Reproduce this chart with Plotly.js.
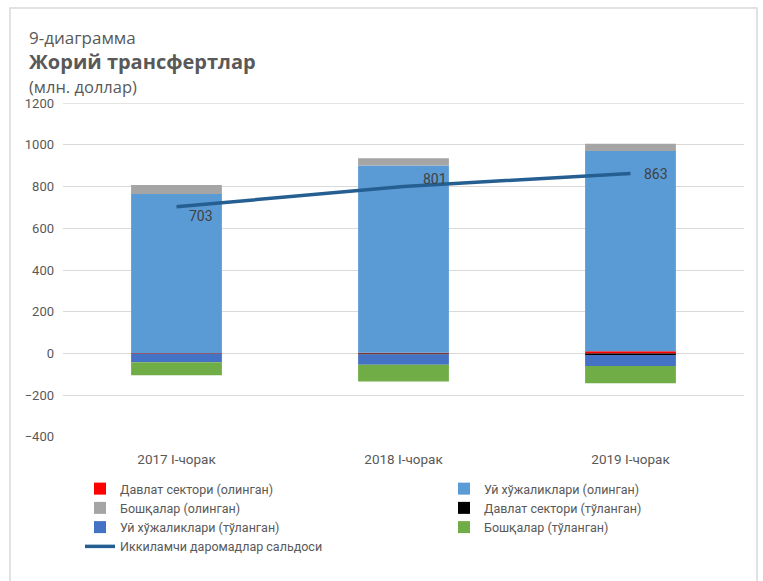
<!DOCTYPE html>
<html>
<head>
<meta charset="utf-8">
<script src="https://cdn.plot.ly/plotly-3.0.1.min.js"></script>
<style>html,body{margin:0;padding:0;background:#fff;}#chart{width:763px;height:581px;}</style>
</head>
<body>
<div id="chart"></div>
<script>
const categories = ["2017 I-чорак", "2018 I-чорак", "2019 I-чорак"];
const govReceived = [2, 3, 10];
const householdsReceived = [763, 898, 961];
const othersReceived = [43, 35, 35];
const govPaid = [-2, -5, -8];
const householdsPaid = [-40, -50, -53];
const othersPaid = [-63, -80, -82];
const secondaryIncomeBalance = [703, 801, 863];
const yTicks = [-400, -200, 0, 200, 400, 600, 800, 1000, 1200];

const seriesNames = [
  "Давлат сектори (олинган)",
  "Уй хўжаликлари (олинган)",
  "Бошқалар (олинган)",
  "Давлат сектори (тўланган)",
  "Уй хўжаликлари (тўланган)",
  "Бошқалар (тўланган)",
  "Иккиламчи даромадлар сальдоси"
];
const colors = ["#ff0000", "#5b9bd5", "#a5a5a5", "#000000", "#4472c4", "#70ad47", "#255e91"];
const legendOf = ["legend", "legend2", "legend", "legend2", "legend", "legend2", "legend"];
const barData = [govReceived, householdsReceived, othersReceived, govPaid, householdsPaid, othersPaid];

const FONT = "Roboto, Liberation Sans, sans-serif";
const GREY = "#595959";

const traces = barData.map((vals, i) => ({
  type: "bar",
  name: seriesNames[i],
  legend: legendOf[i],
  x: categories,
  y: vals,
  marker: {color: colors[i], line: {width: 0}},
  hoverinfo: "skip"
}));

traces.push({
  type: "scatter",
  mode: "lines",
  name: seriesNames[6],
  legend: legendOf[6],
  x: categories,
  y: secondaryIncomeBalance,
  line: {color: colors[6], width: 3.5},
  hoverinfo: "skip"
});

// plot area in pixels: x 63..744, y 103..437
const L = 63, R = 744, T = 103, B = 437;
const px = x => (x - L) / (R - L);
const py = y => (B - y) / (B - T);

const labelShifts = [[24, -9], [31, 7], [25, -1]];
const valueLabels = secondaryIncomeBalance.map((v, i) => ({
  x: categories[i], y: v, xref: "x", yref: "y",
  text: String(v), showarrow: false,
  xanchor: "center", yanchor: "middle",
  xshift: labelShifts[i][0], yshift: labelShifts[i][1],
  font: {family: FONT, size: 14, color: "#404040"}
}));

const legendCommon = {
  orientation: "v",
  xanchor: "left",
  yanchor: "top",
  itemwidth: 30,
  tracegroupgap: 0,
  font: {family: FONT, size: 12.5, color: GREY},
  bgcolor: "rgba(0,0,0,0)",
  borderwidth: 0
};

const yMax = yTicks[yTicks.length - 1];

const layout = {
  width: 763,
  height: 581,
  margin: {l: L, r: 763 - R, t: T, b: 581 - B, autoexpand: false},
  paper_bgcolor: "#ffffff",
  plot_bgcolor: "#ffffff",
  barmode: "relative",
  bargap: 0.6,
  showlegend: true,
  font: {family: FONT, color: GREY},
  xaxis: {
    type: "category",
    showgrid: false,
    zeroline: false,
    showline: false,
    ticks: "",
    ticklabelstandoff: 12,
    tickfont: {family: FONT, size: 13.5, color: GREY},
    fixedrange: true
  },
  yaxis: {
    range: [-401, 1201],
    tickvals: yTicks,
    showgrid: true,
    gridcolor: "#d9d9d9",
    gridwidth: 1,
    zeroline: false,
    showline: false,
    ticks: "",
    ticklabelstandoff: 8,
    tickfont: {family: FONT, size: 13, color: GREY},
    fixedrange: true
  },
  legend: Object.assign({}, legendCommon, {x: px(80), y: py(474)}),
  legend2: Object.assign({}, legendCommon, {x: px(444), y: py(474)}),
  annotations: [
    {text: "9-диаграмма", xref: "paper", yref: "paper", x: px(27), y: py(37), xanchor: "left", yanchor: "middle", showarrow: false, font: {family: "Open Sans, sans-serif", size: 17, color: GREY}},
    {text: "<b>Жорий трансфертлар</b>", xref: "paper", yref: "paper", x: px(27), y: py(62), xanchor: "left", yanchor: "middle", showarrow: false, font: {family: "Open Sans, sans-serif", size: 20, color: GREY}},
    {text: "(млн. доллар)", xref: "paper", yref: "paper", x: px(27), y: py(86), xanchor: "left", yanchor: "middle", showarrow: false, font: {family: "Open Sans, sans-serif", size: 16.5, color: GREY}}
  ].concat(valueLabels),
  shapes: [
    {type: "rect", xref: "paper", yref: "paper", x0: px(10), x1: px(757), y0: py(600), y1: py(8), line: {color: "#d9d9d9", width: 1.5}, fillcolor: "rgba(0,0,0,0)", layer: "below"},
    {type: "line", xref: "paper", yref: "y", x0: 0, x1: 1, y0: yMax, y1: yMax, line: {color: "#d9d9d9", width: 1}, layer: "below"}
  ]
};

Plotly.newPlot("chart", traces, layout, {displayModeBar: false, staticPlot: true});
</script>
</body>
</html>
